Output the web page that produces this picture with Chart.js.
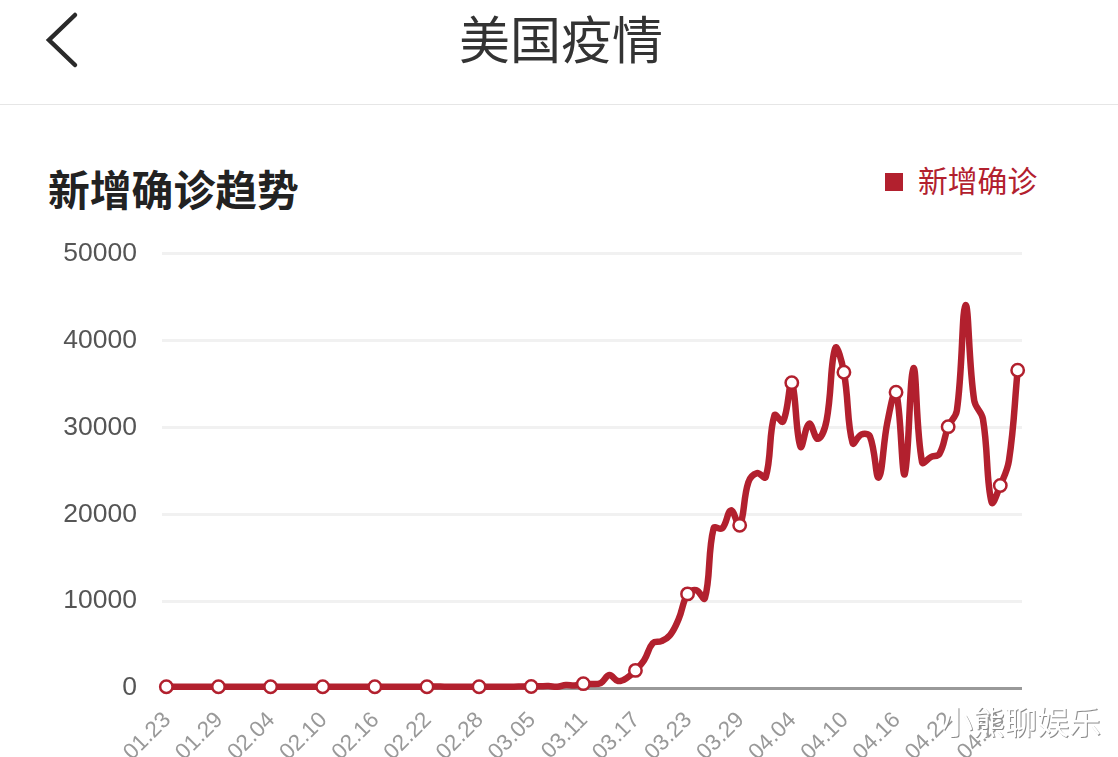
<!DOCTYPE html>
<html>
<head>
<meta charset="utf-8">
<title>美国疫情</title>
<script src="https://cdn.jsdelivr.net/npm/chart.js"></script>
<style>
    html, body { margin: 0; padding: 0; background: #fff; overflow: hidden; }
    body { width: 1118px; height: 757px; position: relative; font-family: "Noto Sans CJK SC", sans-serif; }
    #back { position: absolute; left: 40px; top: 8px; }
    #pageTitle { position: absolute; left: 0; width: 1122px; top: 3px; text-align: center; font-size: 51px; line-height: 68px; color: #333; }
    #rule { position: absolute; left: 0; top: 104px; width: 1118px; height: 1px; background: #e6e6e6; }
    #chartTitle { position: absolute; left: 48px; top: 159px; font-size: 41.8px; line-height: 58px; font-weight: bold; color: #222; }
    #legend { position: absolute; left: 885px; top: 158px; font-size: 29.8px; line-height: 42px; color: #b2202e; white-space: nowrap; }
    #legend i { position: absolute; left: 0; top: 15px; width: 18px; height: 18px; background: #b2202e; }
    #legend span { margin-left: 33px; }
    #wrap { position: absolute; left: 0; top: 213px; width: 1118px; height: 544px; }
    #mark { position: absolute; left: 941px; top: 697px; font-size: 32px; line-height: 46px; color: #fff; text-shadow: 1px 1px 0 #8a8a8a; white-space: nowrap; }
</style>
</head>
<body>
<svg id="back" width="50" height="64"><polyline points="35,7 9,32 35,57" fill="none" stroke="#2a2a2a" stroke-width="4.5" stroke-linecap="round"/></svg>
<div id="pageTitle">美国疫情</div>
<div id="rule"></div>
<div id="chartTitle">新增确诊趋势</div>
<div id="legend"><i></i><span>新增确诊</span></div>
<div id="wrap"><canvas id="trendChart" width="1118" height="544"></canvas></div>
<div id="mark">小熊聊娱乐</div>

<script>
// days on the x axis, 01.23 - 04.30
var days = [
    "01.23","01.24","01.25","01.26","01.27","01.28","01.29","01.30","01.31",
    "02.01","02.02","02.03","02.04","02.05","02.06","02.07","02.08","02.09","02.10",
    "02.11","02.12","02.13","02.14","02.15","02.16","02.17","02.18","02.19","02.20",
    "02.21","02.22","02.23","02.24","02.25","02.26","02.27","02.28","02.29",
    "03.01","03.02","03.03","03.04","03.05","03.06","03.07","03.08","03.09","03.10",
    "03.11","03.12","03.13","03.14","03.15","03.16","03.17","03.18","03.19","03.20",
    "03.21","03.22","03.23","03.24","03.25","03.26","03.27","03.28","03.29","03.30","03.31",
    "04.01","04.02","04.03","04.04","04.05","04.06","04.07","04.08","04.09","04.10",
    "04.11","04.12","04.13","04.14","04.15","04.16","04.17","04.18","04.19","04.20",
    "04.21","04.22","04.23","04.24","04.25","04.26","04.27","04.28","04.29","04.30"
];

var newCases = [
    150, 150, 150, 150, 150, 150, 150, 150, 150,
    150, 150, 150, 150, 150, 150, 150, 150, 150, 150,
    150, 150, 150, 150, 150, 150, 150, 150, 150, 150,
    150, 150, 170, 150, 150, 150, 150, 150, 150,
    150, 150, 150, 170, 180, 200, 220, 150, 350, 300,
    500, 450, 570, 1490, 800, 1150, 2030, 3200, 5170,
    5400, 6100, 8000, 10840, 11260, 10340, 18400, 18400, 20460, 18735, 23700, 24750,
    24300, 31400, 30700, 35170, 27800, 30450, 28700, 30800, 39150, 36360,
    28200, 29200, 28970, 24250, 30600, 34060, 24600, 36850, 26000, 26600,
    26970, 30100, 31950, 44100, 33100, 31000, 21400, 23330, 26200, 36600
];

var yTicks = [0, 10000, 20000, 30000, 40000, 50000];
var xTickLabels = ["01.23","01.29","02.04","02.10","02.16","02.22","02.28","03.05","03.11",
                   "03.17","03.23","03.29","04.04","04.10","04.16","04.22","04.28"];
var markedDays = xTickLabels.concat(["04.30"]);

var lineColor = "#b2202e";

new Chart(document.getElementById("trendChart"), {
    type: "line",
    data: {
        labels: days,
        datasets: [{
            label: "新增确诊",
            data: newCases,
            borderColor: lineColor,
            backgroundColor: lineColor,
            borderWidth: 6.5,
            tension: 0.4,
            clip: false,
            pointBackgroundColor: "#fff",
            pointBorderColor: lineColor,
            pointBorderWidth: 2.5,
            pointRadius: function(ctx) { return markedDays.includes(days[ctx.dataIndex]) ? 6.2 : 0; }
        }]
    },
    options: {
        responsive: false,
        animation: false,
        layout: { padding: { top: 30, right: 96, left: 0, bottom: 0 } },
        plugins: { legend: { display: false }, title: { display: false }, tooltip: { enabled: false } },
        scales: {
            x: {
                offset: true,
                afterFit: function(scale) { scale.height = 69; },
                border: { display: false },
                grid: { display: false, drawTicks: false },
                ticks: {
                    autoSkip: false,
                    maxRotation: 45,
                    minRotation: 45,
                    padding: 19,
                    labelOffset: 1,
                    color: "#999",
                    font: { family: "Liberation Sans", size: 22.5 },
                    callback: function(value) {
                        var label = this.getLabelForValue(value);
                        return xTickLabels.includes(label) ? label : "";
                    }
                }
            },
            y: {
                min: 0,
                max: 50000,
                afterBuildTicks: function(scale) { scale.ticks = yTicks.map(function(v) { return { value: v }; }); },
                afterFit: function(scale) { scale.width = 162; },
                border: { display: false },
                grid: {
                    drawTicks: false,
                    lineWidth: 3,
                    color: function(ctx) { return ctx.tick.value === 0 ? "#999" : "#f1f1f1"; }
                },
                ticks: {
                    padding: 25,
                    color: "#555",
                    font: { family: "Liberation Sans", size: 26.5 },
                    callback: function(value) { return String(value); }
                }
            }
        }
    }
});
</script>
</body>
</html>
